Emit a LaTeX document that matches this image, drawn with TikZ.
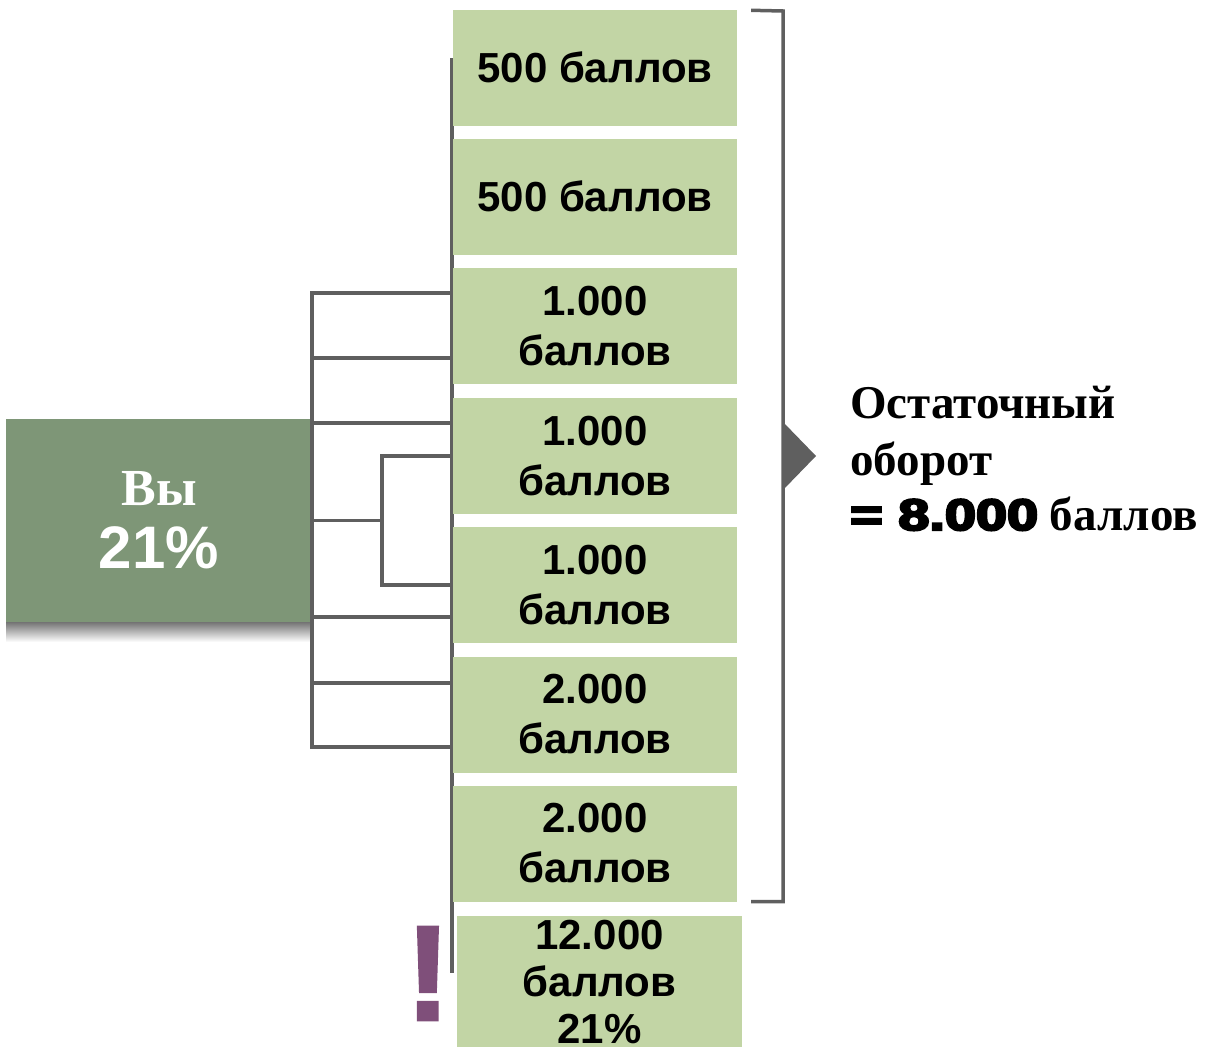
\documentclass[tikz,border=0pt]{standalone}
\usepackage{fontspec}
\usepackage{graphicx}
\setmainfont{Liberation Serif}
\newfontfamily\arial{Liberation Sans}
\newfontfamily\heavy{Liberation Sans}[BoldFeatures={FakeBold=5}]
\newfontfamily\semiheavy{Liberation Sans}[BoldFeatures={FakeBold=2}]
\definecolor{boxgreen}{HTML}{C2D5A5}
\definecolor{dkgreen}{HTML}{7E9677}
\definecolor{lgray}{HTML}{5F5F5F}
\definecolor{purp}{HTML}{7F4F7A}
\tikzset{
  ptsbox/.style={draw=none, fill=boxgreen, minimum width=284, minimum height=116, inner sep=0,
    font=\arial\bfseries\fontsize{42}{50}\selectfont, align=center},
  conn/.style={draw=lgray, line width=3.5pt},
  rtext/.style={anchor=base west, inner sep=0, font=\bfseries\fontsize{47}{57}\selectfont}
}
\begin{document}
\begin{tikzpicture}[x=1pt,y=-1pt]
\useasboundingbox (0,0) rectangle (1211,1052);
% background vertical line behind boxes
\coordinate (v1) at (452,58);
\coordinate (v2) at (452,973);
\draw[conn] (v1) -- (v2);
% boxes
\node[ptsbox] (b1) at (595,67.5) {500 баллов};
\node[ptsbox] (b2) at (595,196.5) {500 баллов};
\node[ptsbox] (b3) at (595,326) {1.000\\баллов};
\node[ptsbox] (b4) at (595,456) {1.000\\баллов};
\node[ptsbox] (b5) at (595,585) {1.000\\баллов};
\node[ptsbox] (b6) at (595,714.5) {2.000\\баллов};
\node[ptsbox] (b7) at (595,843.5) {2.000\\баллов};
\node[ptsbox, minimum width=285, minimum height=131, font=\arial\bfseries\fontsize{42}{47}\selectfont] (b8) at (599.5,981.5) {12.000\\баллов\\21\%};
% you box with shadow
\shade[top color=black!55, bottom color=white] (6,622) rectangle (312,642);
\node[fill=dkgreen, minimum width=306, minimum height=203, inner sep=0, text=white, align=center,
  font=\arial\bfseries\fontsize{60}{63}\selectfont] (you) at (159,520.5)
  {{\rmfamily\bfseries\fontsize{52}{63}\selectfont Вы}\\21\%};
% connectors
\coordinate (a1) at ([yshift=33]b3.west);
\coordinate (a2) at ([yshift=-32]b3.west);
\coordinate (a3) at ([yshift=33]b4.west);
\coordinate (a4) at ([yshift=-32]b5.west);
\coordinate (a5) at ([yshift=31.5]b6.west);
\coordinate (a6) at ([yshift=-32.5]b6.west);
\draw[conn] (a1) -| (you.east |- a6) -- (a6);
\foreach \c in {a2,a3,a4,a5} \draw[conn] (you.east |- \c) -- (\c);
\coordinate (m) at ([xshift=70]you.east);
\draw[conn] (you.east) -- (m);
\draw[conn] (b4.west) -| (m) |- (b5.west);
% bracket
\coordinate (k1) at ([xshift=14,yshift=-1]b1.north east);
\coordinate (k2) at ([xshift=14]b7.south east);
\coordinate (k3) at (783,11);
\draw[conn] (k1) -- (k3) |- (k2);
\fill[lgray] (783,422) -- (816,456) -- (783,490) -- cycle;
% right text
\node[rtext] (r1) at (850,418) {Остаточный};
\node[rtext] (r2) at (850,475) {оборот};
\node[rtext] (r3) at (850,530) {\scalebox{1.27}[1]{\heavy\bfseries\fontsize{44}{57}\selectfont = 8.000} баллов};
% exclamation
\node[text=purp, inner sep=0, font=\semiheavy\bfseries\fontsize{135}{135}\selectfont] (ex) at (428,973.5) {!};
\end{tikzpicture}
\end{document}
